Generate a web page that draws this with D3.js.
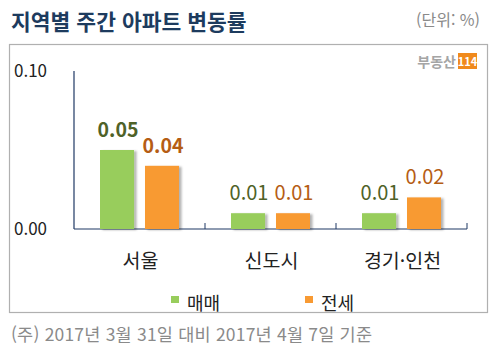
<!DOCTYPE html>
<html lang="ko">
<head>
<meta charset="UTF-8">
<script src="https://d3js.org/d3.v7.min.js"></script>
<style>
  body { margin: 0; background: #fff; }
  svg { display: block; font-family: "Noto Sans CJK KR", "Noto Sans", sans-serif; }
</style>
</head>
<body>
<div id="chart"></div>
<script>
// chart data
const regions = ["서울", "신도시", "경기·인천"];
const seriesNames = ["매매", "전세"];
const saleValues = [0.05, 0.01, 0.01];
const jeonseValues = [0.04, 0.01, 0.02];
const yTicks = [0, 0.1];

const barColors = ["#98cd5c", "#f89a33"];
const labelColors = ["#4f6228", "#b55d14"];

const width = 500, height = 352;
const svg = d3.select("#chart").append("svg")
  .attr("width", width).attr("height", height);

const defs = svg.append("defs");
const shadow = defs.append("filter").attr("id", "shadow")
  .attr("x", "-20%").attr("y", "-20%").attr("width", "150%").attr("height", "140%");
shadow.append("feDropShadow").attr("dx", 2.5).attr("dy", 1).attr("stdDeviation", 1.2)
  .attr("flood-color", "#000").attr("flood-opacity", 0.3);

// title
svg.append("text").attr("x", 11).attr("y", 30)
  .attr("font-size", 21.5).attr("font-weight", "bold").attr("fill", "#1d3b5e")
  .text("지역별 주간 아파트 변동률");
svg.append("text").attr("x", 480).attr("y", 26).attr("text-anchor", "end")
  .attr("font-size", 16).attr("fill", "#8a8a8a").text("(단위: %)");

// frame
svg.append("rect").attr("x", 9.5).attr("y", 44.5).attr("width", 478).attr("height", 268)
  .attr("fill", "none").attr("stroke", "#b0b0b0").attr("stroke-width", 1.2);

// logo
svg.append("text").attr("x", 456).attr("y", 67).attr("text-anchor", "end")
  .attr("font-size", 14).attr("font-weight", "bold").attr("fill", "#a5a5a5").text("부동산");
svg.append("rect").attr("x", 458).attr("y", 53).attr("width", 19).attr("height", 16).attr("fill", "#f08a1c");
svg.append("text").attr("x", 467.5).attr("y", 66).attr("text-anchor", "middle")
  .attr("font-size", 11).attr("font-weight", "bold").attr("fill", "#fff").text("114");

// scales
const x = d3.scaleBand().domain(regions).range([74, 467]);
const sub = d3.scaleBand().domain(seriesNames).range([0, x.bandwidth()])
  .paddingInner(0.244).paddingOuter(0.578);
const y = d3.scaleLinear().domain([0, 0.1]).range([229, 71]);

// axes
const axisColor = "#1f3864";
svg.append("line").attr("x1", 74).attr("x2", 74).attr("y1", y(0.1)).attr("y2", y(0))
  .attr("stroke", axisColor).attr("stroke-width", 1.2);
svg.append("line").attr("x1", 74).attr("x2", 467).attr("y1", y(0)).attr("y2", y(0))
  .attr("stroke", axisColor).attr("stroke-width", 1.2);
svg.selectAll(".xtick").data(regions)
  .enter().append("line")
  .attr("x1", d => x(d) + x.step()).attr("x2", d => x(d) + x.step())
  .attr("y1", y(0) - 6).attr("y2", y(0))
  .attr("stroke", axisColor).attr("stroke-width", 1);

svg.selectAll(".ytick").data(yTicks).enter().append("text")
  .attr("x", 14).attr("y", d => y(d) + 6)
  .attr("font-size", 17).attr("fill", "#222")
  .text(d => d3.format(".2f")(d));

// bars
const seriesData = [saleValues, jeonseValues];
seriesData.forEach((vals, s) => {
  const g = svg.append("g");
  g.selectAll("rect").data(vals).enter().append("rect")
    .attr("x", (d, i) => x(regions[i]) + sub(seriesNames[s]))
    .attr("y", d => y(d))
    .attr("width", sub.bandwidth())
    .attr("height", d => y(0) - y(d))
    .attr("fill", barColors[s])
    .attr("filter", "url(#shadow)");
  g.selectAll("text").data(vals).enter().append("text")
    .attr("x", (d, i) => x(regions[i]) + sub(seriesNames[s]) + sub.bandwidth() / 2 + 1)
    .attr("y", d => y(d) - 13)
    .attr("text-anchor", "middle")
    .attr("font-size", (d, i) => i === 0 ? 19.5 : 20)
    .attr("font-weight", (d, i) => i === 0 ? "bold" : "normal")
    .attr("fill", labelColors[s])
    .text(d => d3.format(".2f")(d));
});

// category labels
svg.selectAll(".cat").data(regions).enter().append("text")
  .attr("x", d => x(d) + x.bandwidth() / 2 + 1)
  .attr("y", 268)
  .attr("text-anchor", "middle")
  .attr("font-size", 19.5).attr("fill", "#222")
  .text(d => d);

// legend
const legendX = [171, 305];
seriesNames.forEach((name, i) => {
  svg.append("rect").attr("x", legendX[i]).attr("y", 296).attr("width", 8).attr("height", 7)
    .attr("fill", barColors[i]);
  svg.append("text").attr("x", legendX[i] + 16).attr("y", 310)
    .attr("font-size", 18).attr("fill", "#222").text(name);
});

// footnote
svg.append("text").attr("x", 11).attr("y", 341)
  .attr("font-size", 17.5).attr("letter-spacing", 0.2).attr("fill", "#8a8a8a")
  .text("(주) 2017년 3월 31일 대비 2017년 4월 7일 기준");
</script>
</body>
</html>
